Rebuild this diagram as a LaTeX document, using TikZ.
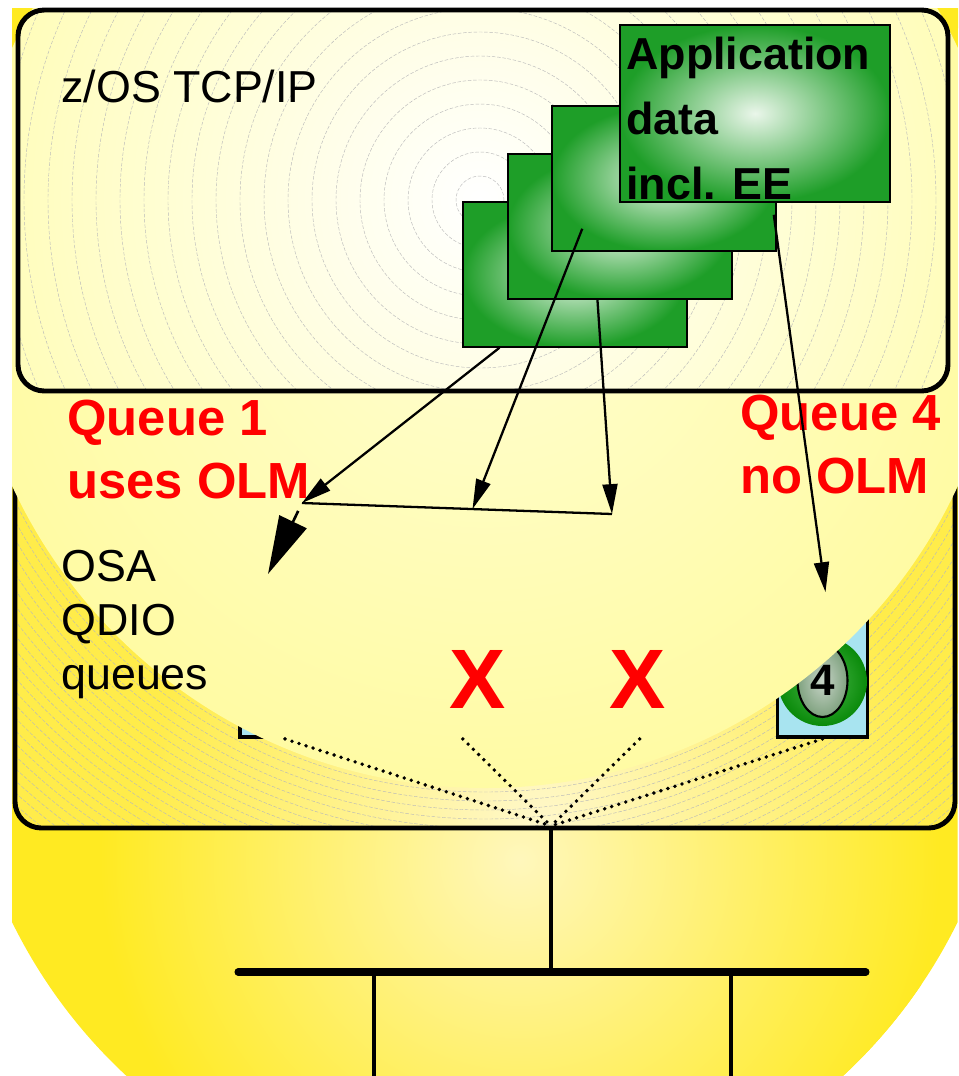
\documentclass[tikz,border=0pt]{standalone}
\usepackage{fontspec}
\setmainfont{Liberation Sans}
\usetikzlibrary{shapes.geometric, arrows.meta, positioning, calc}

\definecolor{bulbyellow}{HTML}{FFEA22}
\definecolor{bulbpale}{HTML}{FFF7BC}
\definecolor{osayellow}{HTML}{FFEC4A}
\definecolor{osapale}{HTML}{FFF8CC}
\definecolor{glowpale}{HTML}{FFFED2}
\definecolor{glowedge}{HTML}{FFFBA4}
\definecolor{tcpedge}{HTML}{FFFDBC}
\definecolor{datagreen}{HTML}{1E9E28}
\definecolor{datalight}{HTML}{EAF6EA}
\definecolor{queueblue}{HTML}{A8E4F0}
\definecolor{discgreen}{HTML}{0A8A0A}
\definecolor{disclight}{HTML}{4CB84C}
\definecolor{egggray}{HTML}{7FA27F}
\definecolor{egglight}{HTML}{C8D4C8}

\begin{document}
\begin{tikzpicture}[x=0.02cm, y=-0.02cm]
\tikzstyle{databox} = [rectangle, draw=black, line width=0.9pt, inner color=datalight, outer color=datagreen, minimum width=4.48cm, minimum height=2.9cm]
\tikzstyle{queue} = [rectangle, draw=black, line width=2.2pt, fill=queueblue, minimum width=1.8cm, minimum height=2.74cm]
\tikzstyle{arrow} = [line width=1.3pt, -{Triangle[length=17pt, width=8.5pt]}]
\tikzstyle{bigarrow} = [line width=1.5pt, -{Triangle[length=33pt, width=17pt]}]
\tikzstyle{dotline} = [line width=2.2pt, line cap=round, dash pattern=on 0pt off 4.2pt]
\tikzstyle{ring} = [gray!55, line width=0.25pt, dash pattern=on 2pt off 1pt]
\tikzstyle{textlabel} = [inner sep=0pt, align=left, anchor=north west, font=\fontsize{25.5}{30.6}\selectfont]
\tikzstyle{redlabel} = [textlabel, text=red, font=\bfseries\fontsize{28.9}{35.7}\selectfont]
\tikzstyle{xmark} = [inner sep=0pt, anchor=base, text=red, font=\bfseries\fontsize{48}{48}\selectfont]
\tikzstyle{wire} = [line width=2pt]

\useasboundingbox (0,0) rectangle (958,1076);

% yellow background
\fill[bulbyellow] (12,8) -- (12,922) arc[start angle=153.8, end angle=26.2, radius=527] -- (958,8) -- cycle;
\begin{scope}
\clip (12,8) -- (12,922) arc[start angle=153.8, end angle=26.2, radius=527] -- (958,8) -- cycle;
\shade[inner color=bulbpale, outer color=bulbyellow] (520,860) circle (420);
\end{scope}

% OSA box
\fill[osayellow, rounded corners=15pt] (15,400) rectangle (955,828);
\begin{scope}
\clip[rounded corners=15pt] (15,400) rectangle (955,828);
\shade[inner color=osapale, outer color=osayellow] (540,830) circle (400);
\foreach \r in {525,534,...,900} \draw[ring] (485,267) circle (\r);
\end{scope}
\draw[line width=2.8pt, rounded corners=15pt] (15,400) rectangle (955,828);

% queues
\node (q1) [queue] at (285,668.5) {};
\node (q2) [queue, right=1.68cm of q1] {};
\node (q3) [queue, right=1.66cm of q2] {};
\node (q4) [queue, right=1.78cm of q3] {};
\node (disc) [circle, minimum size=1.78cm, inner color=disclight, outer color=discgreen] at ($(q4.center)+(0,13)$) {};
\node (egg) [ellipse, draw, line width=1.2pt, minimum width=1cm, minimum height=1.46cm, inner sep=0pt, inner color=egglight, outer color=egggray, font=\bfseries\fontsize{25}{25}\selectfont] at ($(q4.center)+(0,12)$) {4};

% light over the adapter
\begin{scope}
\clip (12,8) -- (12,922) arc[start angle=153.8, end angle=26.2, radius=527] -- (958,8) -- cycle;
\shade[inner color=glowpale, outer color=glowedge] (485,267) circle (521);
\end{scope}

% TCP/IP stack
\fill[tcpedge, rounded corners=15pt] (18,10) rectangle (948,391);
\begin{scope}
\clip[rounded corners=15pt] (18,10) rectangle (948,391);
\shade[inner color=white, outer color=tcpedge] (480,200) circle (480);
\foreach \r in {24,48,...,720} \draw[ring] (480,200) circle (\r);
\end{scope}
\draw[line width=2.8pt, rounded corners=15pt] (18,10) rectangle (948,391);
\node (tcpip) [inner sep=0pt, anchor=base west, font=\fontsize{25.5}{30}\selectfont] at (61,102) {z/OS TCP/IP};

% application data
\node (data1) [databox] at (575,274.5) {};
\node (data2) [databox] at ($(data1)+(45,-48)$) {};
\node (data3) [databox] at ($(data2)+(44,-48)$) {};
\node (data4) [databox, minimum width=5.4cm, minimum height=3.54cm] at (755,113.5) {};
\node (apptext) [textlabel, font=\bfseries\fontsize{25.5}{36.8}\selectfont] at (626,37) {Application\\data\\incl. EE};

% labels
\node (q1note) [redlabel] at (67,400) {Queue 1\\uses OLM};
\node (q4note) [redlabel] at (740,395) {Queue 4\\no OLM};
\node (osatext) [textlabel] at (61,550) {OSA\\QDIO\\queues};
\node (x2) [xmark] at ($(q2.south)+(15,-30)$) {X};
\node (x3) [xmark] at ($(q3.south)+(-2,-30)$) {X};

% flow
\coordinate (collL) at (302,503);
\coordinate (collR) at (612,514);
\coordinate (olmtip) at (268,574);
\draw [arrow] ($(data1.south west)!0.165!(data1.south east)$) -- (collL);
\draw [arrow] ($(data3.south west)+(31,-23)$) -- ($(collL)!0.55!(collR)$);
\draw [arrow] ($(data2.south west)!0.4!(data2.south east)$) -- (collR);
\draw [line width=1.3pt] (collL) -- (collR);
\draw [bigarrow, shorten <=5pt] (collL) -- (olmtip);
\draw [arrow] ($(data3.south east)+(-3,-37)$) -- ($(q4.north)+(3,-6)$);

% LAN
\coordinate (hub) at (551,826);
\coordinate (bus) at (551,972);
\coordinate (busL) at (238,972);
\coordinate (busR) at (866,972);
\coordinate (dropL) at (374,972);
\coordinate (dropR) at (731,972);
\coordinate (endL) at (374,1080);
\coordinate (endR) at (731,1080);
\foreach \q in {q1,q2,q3,q4} \draw[dotline] (\q.south) -- (hub);
\draw[wire] (hub) -- (bus);
\draw[line width=4pt, line cap=round] (busL) -- (busR);
\draw[wire, line width=2.4pt] (dropL) -- (endL);
\draw[wire, line width=2.4pt] (dropR) -- (endR);
\end{tikzpicture}
\end{document}
